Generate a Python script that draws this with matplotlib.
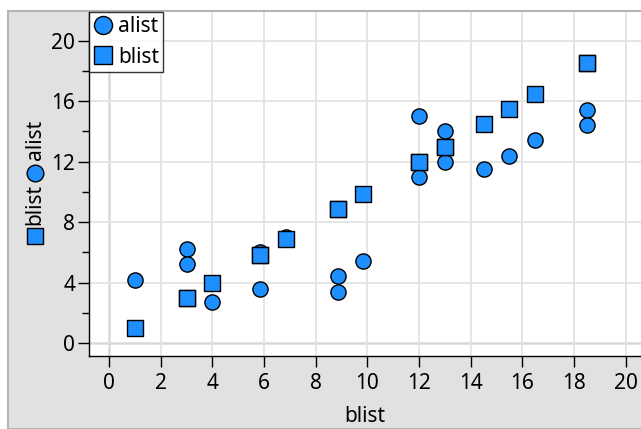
import numpy as np
import matplotlib.pyplot as plt
from matplotlib.patches import Rectangle
from matplotlib.lines import Line2D

plt.rcParams['font.family'] = ['Noto Sans', 'DejaVu Sans']

# data
blist = [1, 3, 3, 4, 5.85, 5.85, 6.85, 8.85, 8.85, 9.85, 12, 12, 13, 13, 14.5, 15.5, 16.5, 18.5, 18.5]
alist = [4.2, 6.2, 5.2, 2.7, 3.6, 6.0, 7.0, 4.4, 3.4, 5.4, 15.0, 11.0, 14.0, 12.0, 11.5, 12.4, 13.4, 15.4, 14.4]
x_ticks = [0, 2, 4, 6, 8, 10, 12, 14, 16, 18, 20]
y_ticks = [0, 4, 8, 12, 16, 20]

W, H = 641, 429
blue = '#1e8fff'
fs = 15

fig = plt.figure(figsize=(W / 100, H / 100), dpi=100)

# gray panel behind the plot
fig.add_artist(Rectangle((8 / W, 0), 1, (H - 11) / H, transform=fig.transFigure,
                         facecolor='#e1e1e1', edgecolor='#b4b4b4', lw=1.5, zorder=0))

ax = fig.add_axes([89 / W, (H - 356) / H, (W - 89) / W, (356 - 12) / H])
ax.set_facecolor('white')
ax.set_xlim(-0.78, 20.6)
ax.set_ylim(-0.86, 21.9)

ax.grid(True, color='#e3e3e3', lw=1.3, zorder=0)
ax.axvline(0, color='#707070', lw=1, zorder=1)
ax.axhline(0, color='#707070', lw=1, zorder=1)

ax.scatter(blist, alist, s=120, marker='o', facecolor=blue, edgecolor='black', lw=1, zorder=3)
ax.scatter(blist, blist, s=120, marker='s', facecolor=blue, edgecolor='black', lw=1, zorder=4)

ax.set_xticks(x_ticks)
ax.set_yticks(y_ticks)
ax.set_yticks([2, 6, 10, 14, 18], minor=True)
ax.tick_params(axis='both', which='major', direction='out', length=8, width=1, labelsize=fs)
ax.tick_params(axis='x', which='major', pad=4)
ax.tick_params(axis='y', which='major', pad=2)
ax.tick_params(axis='y', which='minor', direction='out', length=5, width=1)
for s in ['top', 'right']:
    ax.spines[s].set_visible(False)
for s in ['left', 'bottom']:
    ax.spines[s].set_color('black')
    ax.spines[s].set_linewidth(1)

ax.set_xlabel('blist', fontsize=fs, labelpad=9)

handles = [Line2D([], [], ls='none', marker='o', markersize=13, markerfacecolor=blue, markeredgecolor='black'),
           Line2D([], [], ls='none', marker='s', markersize=13, markerfacecolor=blue, markeredgecolor='black')]
leg = ax.legend(handles, ['alist', 'blist'], loc='upper left', bbox_to_anchor=(0, 1), borderaxespad=0,
                fontsize=fs, frameon=True, fancybox=False, edgecolor='black', handletextpad=0.25,
                handlelength=0.95, borderpad=0.2, labelspacing=0.45)
leg.get_frame().set_linewidth(1)
leg.set_zorder(10)

# y label: square "blist" circle "alist", rotated
xl = 35 / W
fig.add_artist(Line2D([xl], [(H - 236) / H], marker='s', markersize=12, markerfacecolor=blue,
                      markeredgecolor='black', transform=fig.transFigure))
fig.text(xl, (H - 204) / H, 'blist', rotation=90, fontsize=fs, ha='center', va='center')
fig.add_artist(Line2D([xl], [(H - 173) / H], marker='o', markersize=12, markerfacecolor=blue,
                      markeredgecolor='black', transform=fig.transFigure))
fig.text(xl, (H - 140) / H, 'alist', rotation=90, fontsize=fs, ha='center', va='center')

fig.savefig('out.png', dpi=100)
